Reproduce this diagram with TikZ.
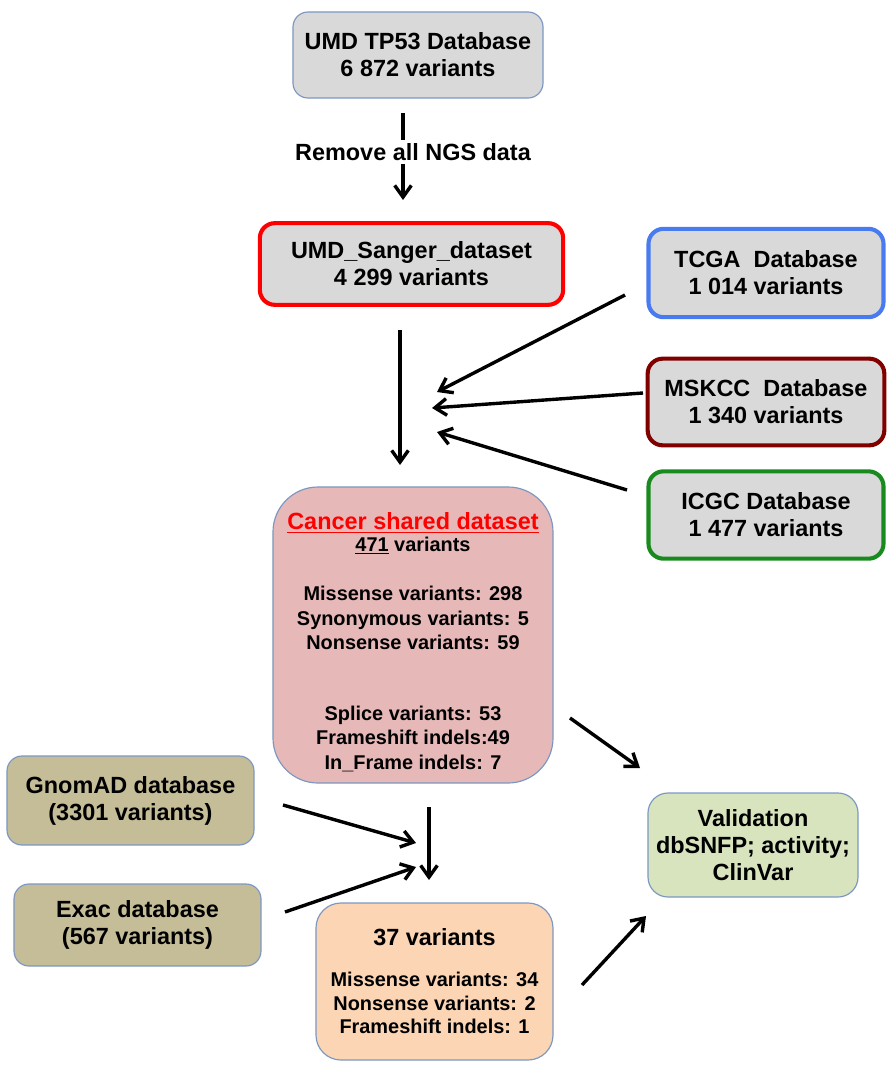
\documentclass[tikz,border=0pt]{standalone}
\usepackage{fontspec}
\setmainfont{Liberation Sans}
\usetikzlibrary{arrows.meta}

\definecolor{boxgray}{RGB}{217,217,217}
\definecolor{edgeblue}{RGB}{124,152,194}
\definecolor{tcgablue}{RGB}{72,122,240}
\definecolor{mskred}{RGB}{128,0,0}
\definecolor{icgcgreen}{RGB}{24,138,30}
\definecolor{cancerpink}{RGB}{230,185,184}
\definecolor{popkhaki}{RGB}{196,189,151}
\definecolor{finalpeach}{RGB}{252,213,181}
\definecolor{validgreen}{RGB}{215,228,189}

\begin{document}
\begin{tikzpicture}[x=0.03cm, y=-0.03cm, >={Straight Barb[length=3.5mm,width=5mm]},
    box/.style={draw=edgeblue, line width=1pt, rounded corners=0.45cm, align=center,
        inner sep=0pt, font=\bfseries\fontsize{20}{23}\selectfont},
    dbbox/.style={box, fill=boxgray, line width=3.5pt},
    flow/.style={->, line width=2.9pt}]
    \useasboundingbox (0,0) rectangle (891,1067);

    % Source database and the Sanger-only subset
    \node[box, fill=boxgray, minimum width=7.5cm, minimum height=2.58cm] (umd) at (418,55)
        {UMD TP53 Database\\6 872 variants};
    \node[dbbox, draw=red, minimum width=9.1cm, minimum height=2.45cm] (sanger) at (411.5,264)
        {UMD\_Sanger\_dataset\\4 299 variants};

    % Filtering step between them
    \coordinate (ngstop) at (403,113);
    \coordinate (ngsbot) at (403,200);
    \draw[flow] (ngstop) -- (ngsbot);
    \node[fill=white, inner sep=3pt, font=\bfseries\fontsize{20}{23}\selectfont] (ngs) at (413,152)
        {Remove all NGS data};

    % Cancer databases on the right
    \node[dbbox, draw=tcgablue, minimum width=7.05cm, minimum height=2.65cm] (tcga) at (766,273)
        {TCGA\ \ Database\\1 014 variants};
    \node[dbbox, draw=mskred, minimum width=7.1cm, minimum height=2.6cm] (mskcc) at (766,402)
        {MSKCC\ \ Database\\1 340 variants};
    \node[dbbox, draw=icgcgreen, minimum width=7.05cm, minimum height=2.62cm] (icgc) at (766,515)
        {ICGC Database\\1 477 variants};

    % Shared dataset
    \node[box, fill=cancerpink, rounded corners=1.35cm, minimum width=8.4cm, minimum height=8.88cm,
        font=\bfseries\fontsize{17}{20.8}\selectfont] (cancer) at (413,635)
        {\rule{0pt}{27pt}{\fontsize{20}{23}\selectfont\color{red}\underline{Cancer shared dataset}}\\[-2pt]
         \underline{471} variants\\[20.8pt]
         Missense variants: 298\\
         Synonymous variants: 5\\
         Nonsense variants: 59\\[40pt]
         Splice variants: 53\\
         Frameshift indels:49\\
         In\_Frame indels: 7};

    % Population databases on the left
    \node[box, fill=popkhaki, minimum width=7.41cm, minimum height=2.67cm] (gnomad) at (130.5,800.5)
        {GnomAD database\\(3301 variants)};
    \node[box, fill=popkhaki, minimum width=7.41cm, minimum height=2.46cm] (exac) at (137.5,925)
        {Exac database\\(567 variants)};

    % Remaining variants and validation
    \node[box, fill=finalpeach, rounded corners=0.75cm, minimum width=7.11cm, minimum height=4.71cm,
        font=\bfseries\fontsize{17}{20}\selectfont] (final) at (434.5,981.5)
        {{\fontsize{20}{23}\selectfont 37 variants}\\[15pt]
         Missense variants: 34\\
         Nonsense variants: 2\\
         Frameshift indels: 1};
    \node[box, fill=validgreen, rounded corners=0.6cm, minimum width=6.3cm, minimum height=3.12cm,
        font=\bfseries\fontsize{20}{23}\selectfont] (valid) at (753,845)
        {Validation\\dbSNFP; activity;\\ClinVar};

    % Free arrow ends
    \coordinate (sangerout) at (400,330);
    \coordinate (cancerin) at (400,465);
    \coordinate (tcgaout) at (625,295);
    \coordinate (tcgain) at (437,392);
    \coordinate (mskccout) at (643,393);
    \coordinate (mskccin) at (432,408);
    \coordinate (icgcout) at (627,490);
    \coordinate (icgcin) at (437,432);
    \coordinate (cancerout) at (570,718);
    \coordinate (validin) at (640,768);
    \coordinate (cancerdown) at (429,807);
    \coordinate (finalin) at (429,880);
    \coordinate (gnomadout) at (283,805);
    \coordinate (gnomadin) at (416,843);
    \coordinate (exacout) at (285,912);
    \coordinate (exacin) at (416,867);
    \coordinate (finalout) at (582,985);
    \coordinate (validlow) at (646,916);

    % Arrows
    \draw[flow] (sangerout) -- (cancerin);
    \draw[flow] (tcgaout) -- (tcgain);
    \draw[flow] (mskccout) -- (mskccin);
    \draw[flow] (icgcout) -- (icgcin);
    \draw[flow] (cancerout) -- (validin);
    \draw[flow] (cancerdown) -- (finalin);
    \draw[flow] (gnomadout) -- (gnomadin);
    \draw[flow] (exacout) -- (exacin);
    \draw[flow] (finalout) -- (validlow);
\end{tikzpicture}
\end{document}
